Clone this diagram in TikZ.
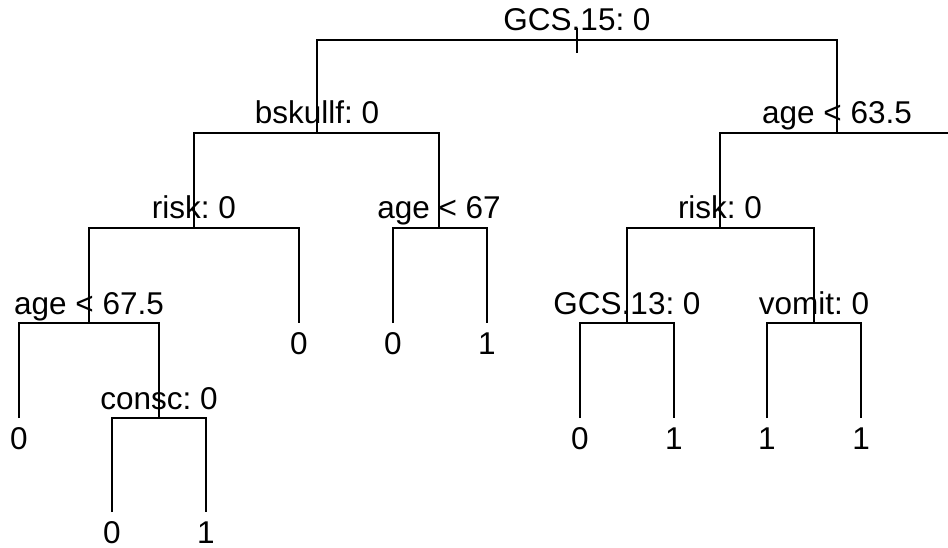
\documentclass[tikz,border=0pt]{standalone}
\usepackage{fontspec}
\setmainfont{Liberation Sans}
\usetikzlibrary{calc}
\frenchspacing

\tikzset{
	branch/.style = {line width=2.2pt},
	split/.style = {anchor=base, yshift=9pt, inner sep=0pt, font=\fontsize{31.5}{36}\selectfont},
	leaf/.style = {anchor=base, yshift=-31pt, inner sep=0pt, font=\fontsize{31.5}{36}\selectfont}
}

\begin{document}
\begin{tikzpicture}[x=1pt, y=-1pt]
			\useasboundingbox (0,0) rectangle (948,548);
			
			% junctions
			\coordinate (gcs15) at (577,40);
			\coordinate (bskullf) at (317,133);
			\coordinate (age635) at (837,133);
			\coordinate (edge) at (948,133);
			\coordinate (riskL) at (194,228);
			\coordinate (age67) at (439,228);
			\coordinate (riskR) at (720,228);
			\coordinate (age675) at (89,323);
			\coordinate (consc) at (159,418);
			\coordinate (gcs13) at (627,323);
			\coordinate (vomit) at (814,323);
			
			% leaf ends
			\coordinate (l1) at (19,418);
			\coordinate (l2) at (112,512);
			\coordinate (l3) at (206,512);
			\coordinate (l4) at (299,323);
			\coordinate (l5) at (393,323);
			\coordinate (l6) at (487,323);
			\coordinate (l7) at (580,418);
			\coordinate (l8) at (674,418);
			\coordinate (l9) at (767,418);
			\coordinate (l10) at (861,418);
			
			\begin{scope}[branch]
			\draw ($(gcs15)+(0,-12)$) -- ($(gcs15)+(0,13)$);
			\draw (bskullf) -- (bskullf |- gcs15) -- (age635 |- gcs15) -- (age635);
			\draw (riskL) -- (riskL |- bskullf) -- (age67 |- bskullf) -- (age67);
			\draw (riskR) -- (riskR |- age635) -- (edge);
			\draw (age675) -- (age675 |- riskL) -- (l4 |- riskL) -- (l4);
			\draw (l5) -- (l5 |- age67) -- (l6 |- age67) -- (l6);
			\draw (gcs13) -- (gcs13 |- riskR) -- (vomit |- riskR) -- (vomit);
			\draw (l1) -- (l1 |- age675) -- (consc |- age675) -- (consc);
			\draw (l2) -- (l2 |- consc) -- (l3 |- consc) -- (l3);
			\draw (l7) -- (l7 |- gcs13) -- (l8 |- gcs13) -- (l8);
			\draw (l9) -- (l9 |- vomit) -- (l10 |- vomit) -- (l10);
			\end{scope}
			
			\node [split] (t-gcs15) at (gcs15) {GCS.15: 0};
			\node [split] (t-bskullf) at (bskullf) {bskullf: 0};
			\node [split] (t-age635) at (age635) {age < 63.5};
			\node [split] (t-riskL) at (riskL) {risk: 0};
			\node [split] (t-age67) at (age67) {age < 67};
			\node [split] (t-riskR) at (riskR) {risk: 0};
			\node [split] (t-age675) at (age675) {age < 67.5};
			\node [split] (t-consc) at (consc) {consc: 0};
			\node [split] (t-gcs13) at (gcs13) {GCS.13: 0};
			\node [split] (t-vomit) at (vomit) {vomit: 0};
			
			\node [leaf] (t-l1) at (l1) {0};
			\node [leaf] (t-l2) at (l2) {0};
			\node [leaf] (t-l3) at (l3) {1};
			\node [leaf] (t-l4) at (l4) {0};
			\node [leaf] (t-l5) at (l5) {0};
			\node [leaf] (t-l6) at (l6) {1};
			\node [leaf] (t-l7) at (l7) {0};
			\node [leaf] (t-l8) at (l8) {1};
			\node [leaf] (t-l9) at (l9) {1};
			\node [leaf] (t-l10) at (l10) {1};
		\end{tikzpicture}
\end{document}
